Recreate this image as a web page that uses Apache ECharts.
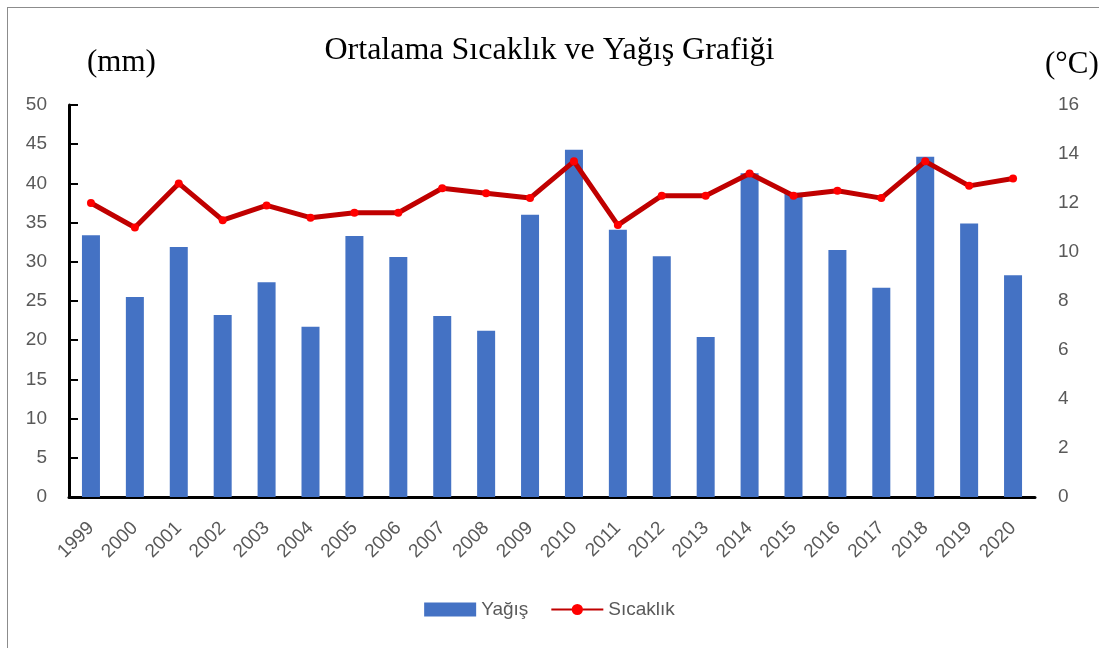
<!DOCTYPE html>
<html>
<head>
<meta charset="utf-8">
<script src="https://cdn.jsdelivr.net/npm/echarts@6/dist/echarts.min.js"></script>
<style>
    html, body { margin: 0; padding: 0; background: #fff; }
    #frame { position: absolute; left: 7px; top: 7px; width: 1100px; height: 650px; border: 1px solid #8c8c8c; }
    #chart { position: absolute; left: 0; top: 0; width: 1099px; height: 648px; }
</style>
</head>
<body>
<div id="frame"></div>
<div id="chart"></div>
<script>
// yıllar
var years = ['1999', '2000', '2001', '2002', '2003', '2004', '2005', '2006', '2007', '2008', '2009',
    '2010', '2011', '2012', '2013', '2014', '2015', '2016', '2017', '2018', '2019', '2020']
// yağış (mm)
var rain = [33.4, 25.5, 31.9, 23.2, 27.4, 21.7, 33.3, 30.6, 23.1, 21.2, 36.0,
    44.3, 34.1, 30.7, 20.4, 41.3, 38.8, 31.5, 26.7, 43.4, 34.9, 28.3]
// sıcaklık (°C)
var temp = [12.0, 11.0, 12.8, 11.3, 11.9, 11.4, 11.6, 11.6, 12.6, 12.4, 12.2,
    13.7, 11.1, 12.3, 12.3, 13.2, 12.3, 12.5, 12.2, 13.7, 12.7, 13.0]

var gray = '#595959'
var sans = 'Liberation Sans'
var serif = 'Liberation Serif'

var chart = echarts.init(document.getElementById('chart'))

chart.setOption({
    animation: false,
    title: [
        {
            text: 'Ortalama Sıcaklık ve Yağış Grafiği',
            left: 'center',
            top: 30,
            textStyle: { fontFamily: serif, fontSize: 32, fontWeight: 'normal', color: '#000' }
        },
        {
            text: '(mm)',
            left: 82,
            top: 42,
            textStyle: { fontFamily: serif, fontSize: 31, fontWeight: 'normal', color: '#000' }
        },
        {
            text: '(°C)',
            left: 1040,
            top: 44,
            textStyle: { fontFamily: serif, fontSize: 31, fontWeight: 'normal', color: '#000' }
        }
    ],
    legend: {
        bottom: 24,
        left: 'center',
        itemGap: 22,
        itemWidth: 52,
        itemHeight: 14,
        textStyle: { fontFamily: sans, fontSize: 19, color: gray },
        data: [
            { name: 'Yağış', icon: 'rect' },
            { name: 'Sıcaklık' }
        ]
    },
    grid: { left: 69, right: 64, top: 105, bottom: 151 },
    xAxis: {
        type: 'category',
        data: years,
        axisLine: { lineStyle: { color: '#000', width: 3 } },
        axisTick: { inside: true, length: 9, lineStyle: { color: '#000', width: 2 } },
        axisLabel: { rotate: 45, fontFamily: sans, fontSize: 19, color: gray, margin: 28 }
    },
    yAxis: [
        {
            type: 'value',
            min: 0,
            max: 50,
            interval: 5,
            splitLine: { show: false },
            axisLine: { show: true, lineStyle: { color: '#000', width: 3 } },
            axisTick: { show: true, inside: true, length: 9, lineStyle: { color: '#000', width: 2 } },
            axisLabel: { fontFamily: sans, fontSize: 19, color: gray, margin: 22 }
        },
        {
            type: 'value',
            min: 0,
            max: 16,
            interval: 2,
            splitLine: { show: false },
            axisLine: { show: false },
            axisTick: { show: false },
            axisLabel: { fontFamily: sans, fontSize: 19, color: gray, margin: 23 }
        }
    ],
    series: [
        {
            name: 'Yağış',
            type: 'bar',
            data: rain,
            barWidth: 18,
            itemStyle: { color: '#4472C4' }
        },
        {
            name: 'Sıcaklık',
            type: 'line',
            yAxisIndex: 1,
            data: temp,
            symbol: 'circle',
            symbolSize: 8,
            lineStyle: { color: '#C00000', width: 5 },
            itemStyle: { color: '#FF0000' }
        }
    ]
})
</script>
</body>
</html>
